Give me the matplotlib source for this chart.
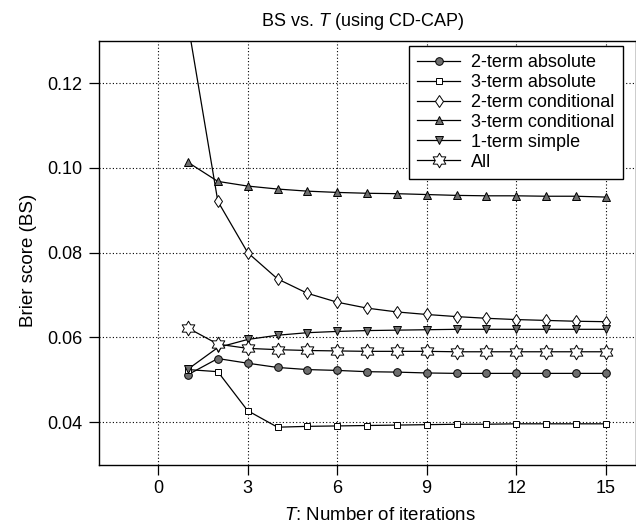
import numpy as np
import matplotlib
matplotlib.use("Agg")
import matplotlib.pyplot as plt
from matplotlib.path import Path

plt.rcParams['font.family'] = ['Liberation Sans', 'DejaVu Sans']
plt.rcParams['mathtext.fontset'] = 'custom'
plt.rcParams['mathtext.it'] = 'Liberation Sans:italic'
plt.rcParams['mathtext.rm'] = 'Liberation Sans'

# ---- data ----
T = list(range(1, 16))
two_term_absolute = [0.0512, 0.0550, 0.0539, 0.0529, 0.0524, 0.0522, 0.0519, 0.0518,
                     0.0516, 0.0515, 0.0515, 0.0515, 0.0515, 0.0515, 0.0515]
three_term_absolute = [0.0524, 0.0519, 0.0427, 0.0388, 0.0390, 0.0391, 0.0392, 0.0393,
                       0.0394, 0.0395, 0.0395, 0.0396, 0.0396, 0.0396, 0.0396]
two_term_conditional = [0.134, 0.0921, 0.0800, 0.0738, 0.0704, 0.0683, 0.0669, 0.0660,
                        0.0654, 0.0649, 0.0645, 0.0642, 0.0640, 0.0638, 0.0637]
three_term_conditional = [0.1013, 0.0968, 0.0957, 0.0950, 0.0945, 0.0942, 0.0940, 0.0939,
                          0.0937, 0.0935, 0.0934, 0.0934, 0.0933, 0.0933, 0.0931]
one_term_simple = [0.0525, 0.0576, 0.0595, 0.0605, 0.0611, 0.0614, 0.0616, 0.0617,
                   0.0618, 0.0619, 0.0619, 0.0619, 0.0619, 0.0619, 0.0619]
all_terms = [0.0622, 0.0584, 0.0574, 0.0571, 0.0569, 0.0568, 0.0567, 0.0567,
             0.0567, 0.0566, 0.0566, 0.0566, 0.0566, 0.0566, 0.0566]

labels = ['2-term absolute', '3-term absolute', '2-term conditional',
          '3-term conditional', '1-term simple', 'All']
x_ticks = [0, 3, 6, 9, 12, 15]
y_ticks = [0.04, 0.06, 0.08, 0.10, 0.12]

# hexagram marker
ang = np.deg2rad(90 + 30 * np.arange(12))
rad = np.where(np.arange(12) % 2 == 0, 1.0, 1 / np.sqrt(3))
verts = np.column_stack([rad * np.cos(ang), rad * np.sin(ang)])
verts = np.vstack([verts, verts[:1]])
hexagram = Path(verts, closed=True)

gray = '#6e6e6e'
styles = [
    dict(marker='o', ms=5.5, mfc=gray),
    dict(marker='s', ms=4.5, mfc='white'),
    dict(marker='d', ms=6.5, mfc='white'),
    dict(marker='^', ms=6.0, mfc=gray),
    dict(marker='v', ms=6.0, mfc=gray),
    dict(marker=hexagram, ms=10.5, mfc='white'),
]
series = [two_term_absolute, three_term_absolute, two_term_conditional,
          three_term_conditional, one_term_simple, all_terms]

W, H = 636, 527
fig = plt.figure(figsize=(W / 100, H / 100), dpi=100)
L, R, Tp, B = 98.5, 635.5, 40.7, 464.5
ax = fig.add_axes([L / W, 1 - B / H, (R - L) / W, (B - Tp) / H])

for ys, lab, st in zip(series, labels, styles):
    ax.plot(T, ys, color='black', lw=0.9, mec='black', mew=0.7, label=lab, **st)

ax.set_xlim(-2, 16)
ax.set_ylim(0.03, 0.13)
ax.set_xticks(x_ticks)
ax.set_yticks(y_ticks)
ax.set_yticklabels([f'{v:.2f}' for v in y_ticks])
ax.tick_params(direction='out', length=7.5, width=0.9, pad=4, labelsize=13,
               top=False, right=False)
ax.grid(True, linestyle=(0, (1, 2)), color='black', linewidth=0.8)
for s in ax.spines.values():
    s.set_linewidth(1.0)

ax.set_xlabel('$\\mathit{T}$: Number of iterations', fontsize=13.5)
ax.xaxis.set_label_coords((379.5 - L) / (R - L), (B - 507) / (B - Tp))
ax.set_ylabel('Brier score (BS)', fontsize=13.5)
ax.yaxis.set_label_coords((37 - L) / (R - L), (B - 260.7) / (B - Tp))

fig.text(362 / W, 1 - 25.5 / H, 'BS vs. $\\mathit{T}$ (using CD-CAP)',
         ha='center', va='baseline', fontsize=13)

leg = ax.legend(loc='upper right',
                bbox_to_anchor=((622.7 - L) / (R - L), 1 - (46 - Tp) / (B - Tp)),
                borderaxespad=0, fontsize=13, labelspacing=0.16, borderpad=0.45,
                handlelength=2.4, handletextpad=0.6, fancybox=False,
                framealpha=1, edgecolor='black')
leg.get_frame().set_linewidth(1.0)

fig.savefig('out.png', dpi=100)
